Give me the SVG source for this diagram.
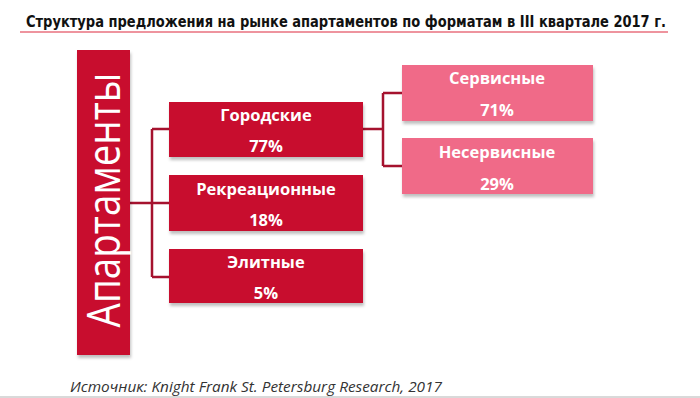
<svg xmlns="http://www.w3.org/2000/svg" width="700" height="398" viewBox="0 0 700 398">
<style>
.dark{fill:#C8102E}
.pink{fill:#F06B88}
.lbl{font-family:"Open Sans","DejaVu Sans",sans-serif;font-weight:bold;font-size:16.5px;fill:#fff;text-anchor:middle}
.conn{fill:none;stroke:#A5122E;stroke-width:2.5}
</style>
<defs>
<filter id="sh" x="-10%" y="-10%" width="120%" height="130%">
<feDropShadow dx="1" dy="3" stdDeviation="1.5" flood-color="#000" flood-opacity="0.25"/>
</filter>
</defs>
<rect width="700" height="398" fill="#fff"/>
<text x="346" y="27" font-family="'Liberation Sans Narrow','DejaVu Sans Condensed','Liberation Sans',sans-serif" font-weight="bold" font-size="15" fill="#111" text-anchor="middle" textLength="640" lengthAdjust="spacingAndGlyphs">Структура предложения на рынке апартаментов по форматам в III квартале 2017 г.</text>
<line x1="20" y1="32" x2="668" y2="32" stroke="#E8707E" stroke-width="1.5"/>
<g id="connectors">
<path class="conn" d="M130 203 H152 M152 129 V277 M152 129 H169 M152 203 H169 M152 277 H169"/>
<path class="conn" d="M363 129 H383 M383 93 V166 M383 93 H402 M383 166 H402"/>
</g>
<g id="apartamenty">
<rect class="dark" x="77" y="50" width="53" height="305" filter="url(#sh)"/>
<text transform="translate(120 200) rotate(-90)" font-family="'Open Sans','DejaVu Sans',sans-serif" font-size="46" fill="#fff" text-anchor="middle" textLength="255" lengthAdjust="spacingAndGlyphs">Апартаменты</text>
</g>
<g id="gorodskie">
<rect class="dark" x="169" y="102" width="194" height="55" filter="url(#sh)"/>
<text class="lbl" x="266" y="121">Городские</text>
<text class="lbl" x="266" y="152">77%</text>
</g>
<g id="rekreacionnye">
<rect class="dark" x="169" y="175" width="194" height="56" filter="url(#sh)"/>
<text class="lbl" x="266" y="195">Рекреационные</text>
<text class="lbl" x="266" y="226">18%</text>
</g>
<g id="elitnye">
<rect class="dark" x="169" y="249" width="194" height="54" filter="url(#sh)"/>
<text class="lbl" x="266" y="268">Элитные</text>
<text class="lbl" x="266" y="299">5%</text>
</g>
<g id="servisnye">
<rect class="pink" x="402" y="65" width="191" height="56" filter="url(#sh)"/>
<text class="lbl" x="497" y="84">Сервисные</text>
<text class="lbl" x="497" y="116">71%</text>
</g>
<g id="neservisnye">
<rect class="pink" x="402" y="138" width="191" height="56" filter="url(#sh)"/>
<text class="lbl" x="497" y="158">Несервисные</text>
<text class="lbl" x="497" y="190">29%</text>
</g>
<text x="70" y="392" font-family="'Open Sans','DejaVu Sans',sans-serif" font-style="italic" font-size="15" fill="#333" textLength="372" lengthAdjust="spacingAndGlyphs">Источник: Knight Frank St. Petersburg Research, 2017</text>
<line x1="0" y1="397" x2="700" y2="397" stroke="#ccc" stroke-width="1.5"/>
</svg>
